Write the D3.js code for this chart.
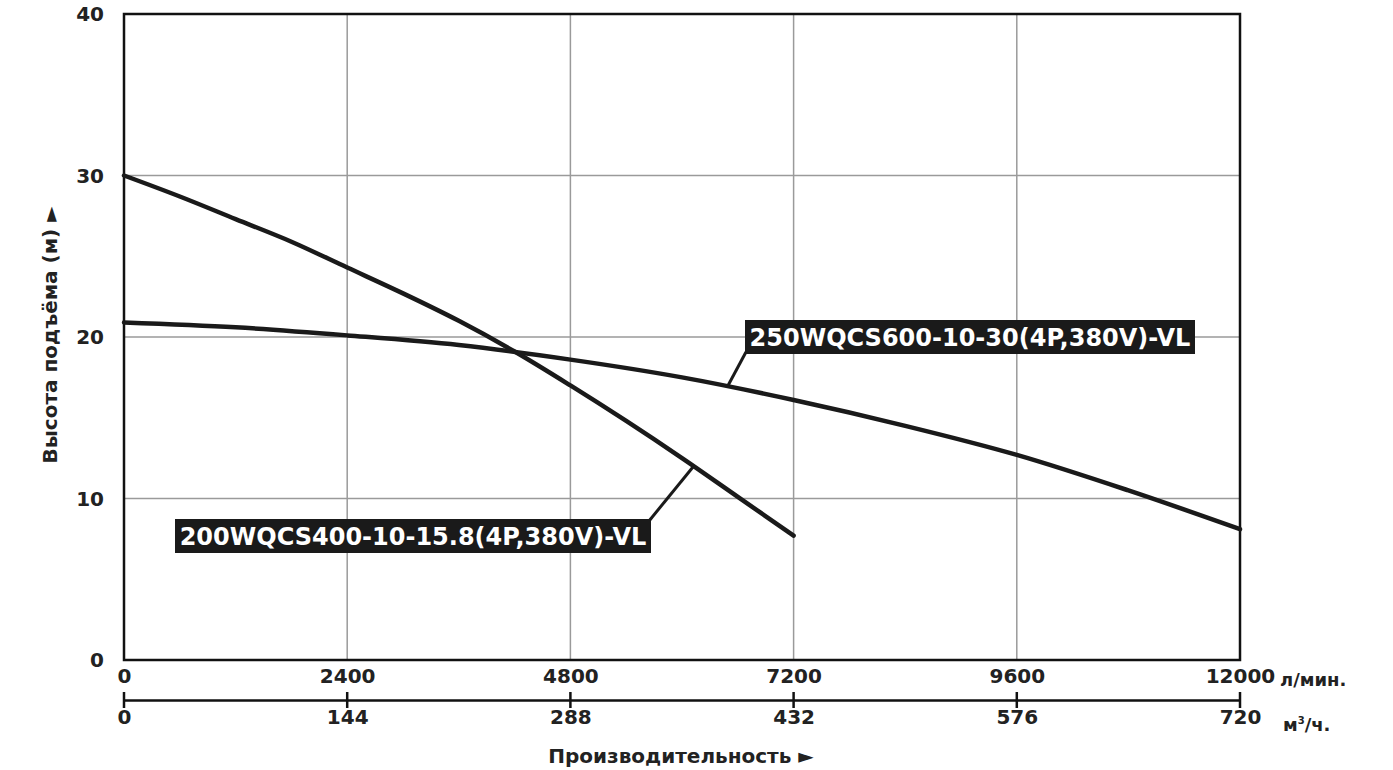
<!DOCTYPE html>
<html><head><meta charset="utf-8">
<script src="https://cdn.jsdelivr.net/npm/d3@7"></script>
<style>body{margin:0;background:#fff}svg{display:block}text{font-family:"DejaVu Sans",Verdana,sans-serif;font-weight:bold;fill:#222}</style>
</head><body><svg id="c" width="1393" height="770"></svg>
<script>
const flowTicks=[0,2400,4800,7200,9600,12000];
const m3Ticks=[0,144,288,432,576,720];
const headTicks=[0,10,20,30,40];
const seriesNames=["200WQCS400-10-15.8(4P,380V)-VL","250WQCS600-10-30(4P,380V)-VL"];
const flowA=[0,600,1200,1800,2400,3000,3600,4200,4800,5400,6000,6600,7200];
const headA=[30.0,28.7,27.3,25.9,24.3,22.7,21.0,19.1,17.0,14.8,12.5,10.1,7.7];
const flowB=[0,1200,2400,3600,4800,6000,7200,8400,9600,10800,12000];
const headB=[20.9,20.6,20.1,19.5,18.6,17.5,16.1,14.5,12.7,10.5,8.1];

const svg=d3.select("#c");
const L=124,R=1240,T=14,B=660;
const x=d3.scaleLinear().domain([0,12000]).range([L,R]);
const x2=d3.scaleLinear().domain([0,720]).range([L,R]);
const y=d3.scaleLinear().domain([0,40]).range([B,T]);

// grid
svg.append("g").selectAll("line").data(flowTicks.slice(1,-1)).join("line")
 .attr("x1",d=>x(d)).attr("x2",d=>x(d)).attr("y1",T).attr("y2",B).attr("stroke","#9a9a9a").attr("stroke-width",1.5);
svg.append("g").selectAll("line").data(headTicks.slice(1,-1)).join("line")
 .attr("y1",d=>y(d)).attr("y2",d=>y(d)).attr("x1",L).attr("x2",R).attr("stroke","#9a9a9a").attr("stroke-width",1.5);
svg.append("rect").attr("x",L).attr("y",T).attr("width",R-L).attr("height",B-T).attr("fill","none").attr("stroke","#111").attr("stroke-width",2.5);

// y axis labels
svg.append("g").selectAll("text").data(headTicks).join("text")
 .attr("x",104).attr("y",d=>y(d)+7).attr("text-anchor","end").attr("font-size",20).text(d=>d);
// x axis 1
const ax1=svg.append("g").attr("transform",`translate(0,${B})`).call(d3.axisBottom(x).tickValues(flowTicks).tickFormat(d3.format("d")).tickSize(0).tickPadding(9));
ax1.select(".domain").remove();
ax1.selectAll("text").attr("font-size",20).attr("font-family","DejaVu Sans").attr("font-weight","bold").attr("fill","#222");
svg.append("text").attr("x",1280).attr("y",686).attr("font-size",18).text("л/мин.");
// x axis 2
const ax2=svg.append("g").attr("transform","translate(0,700)").call(d3.axisBottom(x2).tickValues(m3Ticks).tickFormat(d3.format("d")).tickSizeInner(0).tickSizeOuter(0).tickPadding(10));
ax2.select(".domain").attr("stroke","#111").attr("stroke-width",2.5);
ax2.selectAll("text").attr("font-size",20).attr("font-family","DejaVu Sans").attr("font-weight","bold").attr("fill","#222");
svg.append("g").selectAll("line").data(m3Ticks).join("line").attr("x1",d=>x2(d)).attr("x2",d=>x2(d)).attr("y1",692).attr("y2",708).attr("stroke","#111").attr("stroke-width",2.5);
const m3=svg.append("text").attr("x",1283).attr("y",731).attr("font-size",18);
m3.append("tspan").text("м");m3.append("tspan").attr("dy",-7).attr("font-size",10).text("3");m3.append("tspan").attr("dy",7).text("/ч.");

// axis titles
svg.append("text").attr("transform","translate(57,335) rotate(-90)").attr("text-anchor","middle").attr("font-size",20).text("Высота подъёма (м) ►");
svg.append("text").attr("x",681).attr("y",763).attr("text-anchor","middle").attr("font-size",20).text("Производительность ►");

// curves
const line=d3.line().curve(d3.curveCatmullRom.alpha(0.5));
const ptsA=flowA.map((f,i)=>[x(f),y(headA[i])]);
const ptsB=flowB.map((f,i)=>[x(f),y(headB[i])]);
[ptsA,ptsB].forEach(p=>svg.append("path").attr("d",line(p)).attr("fill","none").attr("stroke","#1a1a1a").attr("stroke-width",4.5).attr("stroke-linecap","round"));

// labels
function label(name,bx,by,w,h,lx1,ly1,lx2,ly2){
 svg.append("line").attr("x1",lx1).attr("y1",ly1).attr("x2",lx2).attr("y2",ly2).attr("stroke","#1a1a1a").attr("stroke-width",3);
 svg.append("rect").attr("x",bx).attr("y",by).attr("width",w).attr("height",h).attr("fill","#1a1a1a");
 svg.append("text").attr("x",bx+w/2).attr("y",by+h/2+8.5).attr("text-anchor","middle").attr("font-size",24).style("fill","#fff").text(name);
}
label(seriesNames[0],175,519,476,34,649,521,x(6118),y(11.95));
label(seriesNames[1],745,320,450,34,746,352,x(6495),y(17.0));
</script></body></html>
